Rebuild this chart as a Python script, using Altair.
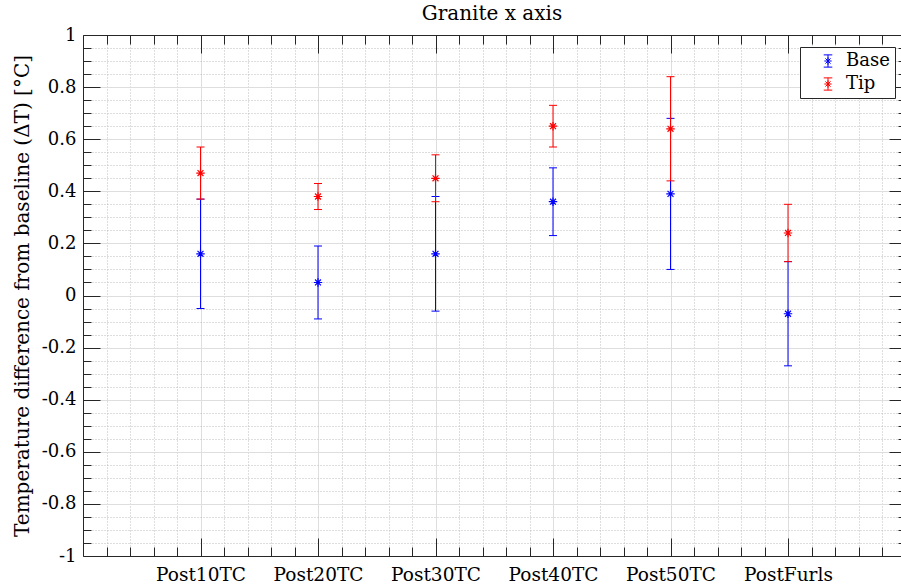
import altair as alt
import pandas as pd

# Temperature change of the granite sample (x axis) per test stage
categories = ["Post10TC", "Post20TC", "Post30TC", "Post40TC", "Post50TC", "PostFurls"]

base_mean = [0.16, 0.05, 0.16, 0.36, 0.39, -0.07]
base_lower = [-0.05, -0.09, -0.06, 0.23, 0.10, -0.27]
base_upper = [0.37, 0.19, 0.38, 0.49, 0.68, 0.13]

tip_mean = [0.47, 0.38, 0.45, 0.65, 0.64, 0.24]
tip_lower = [0.37, 0.33, 0.36, 0.57, 0.44, 0.13]
tip_upper = [0.57, 0.43, 0.54, 0.73, 0.84, 0.35]

series_names = ["Base", "Tip"]
series_colors = ["#0000ff", "#ff0000"]

rows = []
for name, means, lows, highs in [
    ("Base", base_mean, base_lower, base_upper),
    ("Tip", tip_mean, tip_lower, tip_upper),
]:
    for i, cat in enumerate(categories):
        rows.append({"series": name, "category": cat, "pos": i + 1,
                     "mean": means[i], "lo": lows[i], "hi": highs[i]})
df = pd.DataFrame(rows)

# layout
W, H = 818, 521
UNIT = 117.5                      # pixels per category step
X_MAX = W / UNIT
FONT = "DejaVu Serif"
TEXT = "#000000"
AX = "#262626"

x_scale = alt.Scale(domain=[0, X_MAX], nice=False, zero=False)
y_scale = alt.Scale(domain=[-1, 1], nice=False, zero=False)

major_x = [1, 2, 3, 4, 5, 6]
minor_x = [round(k * 0.2, 1) for k in range(1, 35) if k % 5 != 0]
major_y = [round(-1 + 0.2 * k, 1) for k in range(11)]
minor_y = [round(-1 + 0.05 * k, 2) for k in range(1, 40) if k % 4 != 0]

cat_expr = "[" + ",".join("'%s'" % c for c in categories) + "][datum.value - 1]"
num_expr = "datum.value < 0 ? '-' + format(-datum.value, '~g') : format(datum.value, '~g')"

STAR = "M-1,0L1,0M0,-1L0,1M-0.7,-0.7L0.7,0.7M-0.7,0.7L0.7,-0.7"
ERRBAR = ("M0,-1L0,1M-0.7,-1L0.7,-1M-0.7,1L0.7,1"
          "M-0.6,0L0.6,0M0,-0.6L0,0.6M-0.42,-0.42L0.42,0.42M-0.42,0.42L0.42,-0.42")


def guide_layer(x_axis, y_axis):
    return alt.Chart(df).mark_point(opacity=0).encode(
        x=alt.X("pos:Q", scale=x_scale, axis=x_axis),
        y=alt.Y("mean:Q", scale=y_scale, axis=y_axis),
    )


def tick_axis(orient, values, size, offset, domain=False):
    return alt.Axis(orient=orient, values=values, offset=offset, labels=False,
                    grid=False, title=None, domain=domain, domainColor=AX,
                    domainWidth=1, ticks=True, tickSize=size, tickColor=AX,
                    tickWidth=1)


main_axes = guide_layer(
    alt.Axis(orient="bottom", values=major_x, labelExpr=cat_expr, title=None,
             ticks=False, domain=True, domainColor=AX, domainWidth=1,
             grid=True, gridColor="#dedede", gridWidth=1,
             labelFont=FONT, labelFontSize=18.5, labelColor=TEXT,
             labelPadding=9, labelAngle=0),
    alt.Axis(orient="left", values=major_y, labelExpr=num_expr,
             title="Temperature difference from baseline (ΔT) [°C]",
             ticks=False, domain=True, domainColor=AX, domainWidth=1,
             grid=True, gridColor="#dedede", gridWidth=1,
             labelFont=FONT, labelFontSize=18, labelColor=TEXT, labelPadding=7,
             titleFont=FONT, titleFontSize=20, titleFontWeight="normal",
             titleColor=TEXT, titlePadding=9),
)

minor_grid = guide_layer(
    alt.Axis(orient="bottom", values=minor_x, labels=False, ticks=False,
             domain=False, title=None, grid=True, gridColor="#bdbdbd",
             gridDash=[1, 2], gridWidth=1),
    alt.Axis(orient="left", values=minor_y, labels=False, ticks=False,
             domain=False, title=None, grid=True, gridColor="#bdbdbd",
             gridDash=[1, 2], gridWidth=1),
)

# inward ticks on all four sides of the box
ticks_bl_major = guide_layer(tick_axis("top", major_x, 18, -H),
                             tick_axis("right", major_y, 17, -W))
ticks_bl_minor = guide_layer(tick_axis("top", minor_x, 9, -H),
                             tick_axis("right", minor_y, 8, -W))
ticks_tr_major = guide_layer(tick_axis("bottom", major_x, 18, -H, domain=True),
                             tick_axis("left", major_y, 12, -W))
ticks_tr_minor = guide_layer(tick_axis("bottom", minor_x, 9, -H),
                             tick_axis("left", minor_y, 3, -W))

color_scale = alt.Scale(domain=series_names, range=series_colors)
legend = alt.Legend(title=None, orient="none", legendX=717, legendY=12,
                    symbolType=ERRBAR, symbolSize=150, symbolStrokeWidth=1,
                    labelFont=FONT, labelFontSize=18, labelColor=TEXT,
                    padding=5, rowPadding=5, symbolOffset=14, labelOffset=9,
                    strokeColor=AX, fillColor="white", cornerRadius=0)


def series_layers(name):
    src = alt.Chart(df).transform_filter(alt.datum.series == name)
    color = alt.Color("series:N", scale=color_scale, legend=legend)
    x = alt.X("pos:Q", scale=x_scale, axis=None)
    bar = src.mark_rule(strokeWidth=1).encode(
        x=x, y=alt.Y("lo:Q", scale=y_scale, axis=None), y2="hi:Q", color=color)
    cap_lo = src.mark_rule(strokeWidth=1, xOffset=-4, x2Offset=4).encode(
        x=x, x2="pos:Q", y=alt.Y("lo:Q", scale=y_scale, axis=None), color=color)
    cap_hi = src.mark_rule(strokeWidth=1, xOffset=-4, x2Offset=4).encode(
        x=x, x2="pos:Q", y=alt.Y("hi:Q", scale=y_scale, axis=None), color=color)
    star = src.mark_point(shape=STAR, size=72, filled=False, strokeWidth=1.2,
                          opacity=1).encode(
        x=x, y=alt.Y("mean:Q", scale=y_scale, axis=None), color=color)
    return [star, bar, cap_lo, cap_hi]


layers = [minor_grid, main_axes, ticks_bl_major, ticks_bl_minor,
          ticks_tr_major, ticks_tr_minor]
for s in series_names:
    layers += series_layers(s)

chart = alt.layer(*layers).resolve_axis(
    x="independent", y="independent"
).properties(
    width=W, height=H,
    title=alt.TitleParams("Granite x axis", font=FONT),
    background="white",
    autosize=alt.AutoSizeParams(type="none"),
    padding={"left": 83, "top": 35, "right": 0, "bottom": 31},
).configure(
    font=FONT,
).configure_view(
    stroke=None,
).configure_title(
    font=FONT, fontSize=20, fontWeight="normal", color=TEXT,
    anchor="middle", offset=0, dy=2, frame="group",
)

chart.save("out.html", embed_options={"renderer": "svg", "actions": False})
